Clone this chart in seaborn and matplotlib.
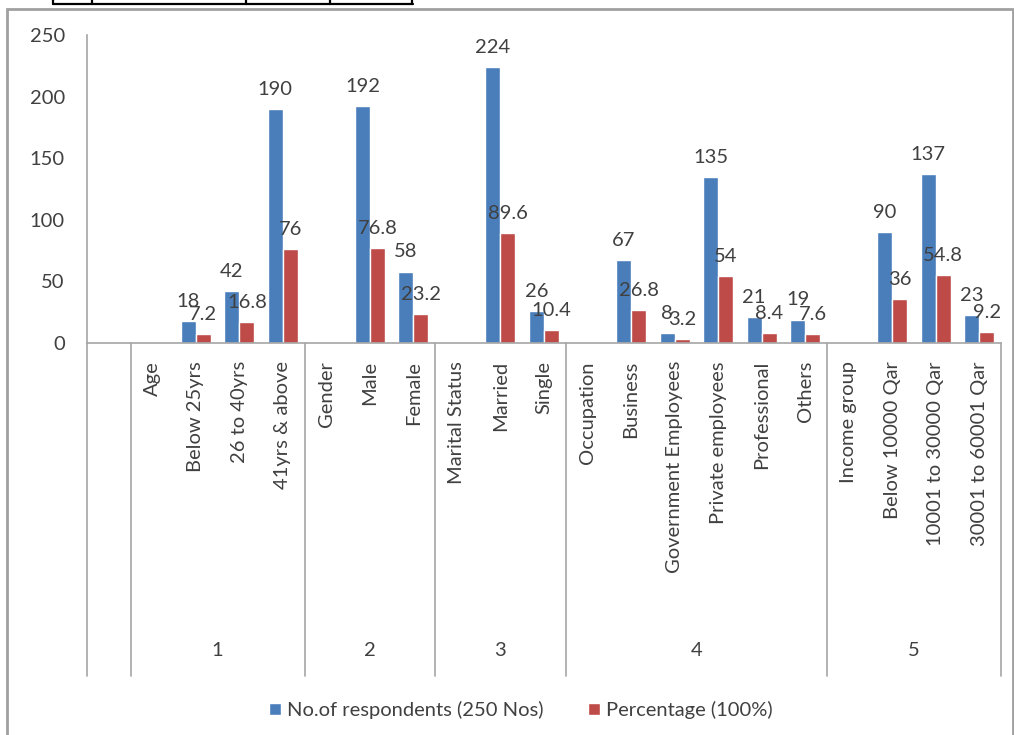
import numpy as np
import pandas as pd
import seaborn as sns
import matplotlib.pyplot as plt
from matplotlib.lines import Line2D
from matplotlib.patches import Rectangle

# data
categories = ["", "Age", "Below 25yrs", "26 to 40yrs", "41yrs & above",
              "Gender", "Male", "Female",
              "Marital Status", "Married", "Single",
              "Occupation", "Business", "Government Employees", "Private employees", "Professional", "Others",
              "Income group", "Below 10000 Qar", "10001 to 30000 Qar", "30001 to 60001 Qar"]
respondents = [np.nan, np.nan, 18, 42, 190,
               np.nan, 192, 58,
               np.nan, 224, 26,
               np.nan, 67, 8, 135, 21, 19,
               np.nan, 90, 137, 23]
percentage = [np.nan, np.nan, 7.2, 16.8, 76,
              np.nan, 76.8, 23.2,
              np.nan, 89.6, 10.4,
              np.nan, 26.8, 3.2, 54, 8.4, 7.6,
              np.nan, 36, 54.8, 9.2]
group_labels = ["1", "2", "3", "4", "5"]
group_sizes = [4, 3, 3, 6, 4]
series_names = ["No.of respondents (250 Nos)", "Percentage (100%)"]
colors = ["#4A7EBB", "#BE4B48"]

df = pd.DataFrame({
    "category": categories * 2,
    "series": [series_names[0]] * len(categories) + [series_names[1]] * len(categories),
    "value": respondents + percentage,
}).dropna()

sns.set_style("white")
plt.rcParams['font.family'] = ['Lato', 'DejaVu Sans']
txt = "#404040"
grid = "#A6A6A6"
fs = 14.5
W, H = 1014, 735

fig = plt.figure(figsize=(W / 100, H / 100), dpi=100)
ax = fig.add_axes([87 / W, (H - 343) / H, (1001 - 87) / W, (343 - 35) / H])

sns.barplot(data=df, x="category", y="value", hue="series", order=categories,
            hue_order=series_names, palette=colors, saturation=1, width=0.69,
            errorbar=None, ax=ax)

for c in ax.containers:
    ax.bar_label(c, fmt=lambda v: f"{v:g}", padding=8, fontsize=fs, color=txt)

ax.set_xlim(-0.5, len(categories) - 0.5)
ax.set_ylim(0, 250)
ax.set_yticks(range(0, 251, 50))
ax.set_xlabel("")
ax.set_ylabel("")
ax.tick_params(axis="x", length=0, pad=13, labelsize=fs, labelcolor=txt, labelrotation=90)
ax.tick_params(axis="y", length=0, pad=16, labelsize=fs, labelcolor=txt)

for s in ["top", "right"]:
    ax.spines[s].set_visible(False)
for s in ["left", "bottom"]:
    ax.spines[s].set_color(grid)
    ax.spines[s].set_linewidth(1.2)

# multi-level category axis: dividers and group numbers
trans = ax.get_xaxis_transform()
ybot = (343 - 676) / (343 - 35)
bounds = [-0.5, 0.5] + list(0.5 + np.cumsum(group_sizes))
for b in bounds:
    ax.plot([b, b], [0, ybot], color=grid, lw=1.2, transform=trans, clip_on=False)
for lab, lo, hi in zip(group_labels, bounds[1:-1], bounds[2:]):
    ax.text((lo + hi) / 2, (343 - 650) / (343 - 35), lab, transform=trans,
            ha="center", va="center", fontsize=fs, color=txt)

sns.move_legend(ax, "center", bbox_to_anchor=((521 - 87) / 914, (343 - 710) / 308),
                ncol=2, frameon=False, title=None, fontsize=fs,
                handlelength=0.6, handleheight=0.6, handletextpad=0.3, columnspacing=2.2)
for t in ax.get_legend().get_texts():
    t.set_color(txt)

# chart frame and the cut-off table border above it
fig.add_artist(Rectangle((7 / W, -0.02), (1013 - 7) / W, (H - 9) / H + 0.02,
                         transform=fig.transFigure, fill=False, ec="#A0A0A0", lw=2))
yt = 1 - 4 / H
fig.add_artist(Line2D([53 / W, 413 / W], [yt, yt], color="black", lw=1.6, transform=fig.transFigure))
for xv in [53, 92, 246, 330, 412]:
    fig.add_artist(Line2D([xv / W, xv / W], [yt, 1], color="black", lw=1.6, transform=fig.transFigure))

fig.savefig("out.png", dpi=100)
